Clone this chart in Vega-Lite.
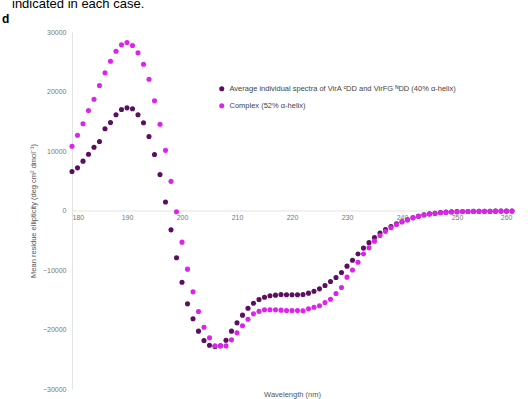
{
  "$schema": "https://vega.github.io/schema/vega-lite/v6.json",
  "width": 440,
  "height": 357,
  "autosize": "none",
  "padding": {"left": 72, "top": 32, "right": 16, "bottom": 10},
  "background": "white",
  "title": {
    "text": "\u2800indicated in each case.",
    "subtitle": "d",
    "anchor": "start",
    "frame": "group",
    "dx": -70,
    "offset": 3,
    "font": "Liberation Sans",
    "fontSize": 13,
    "fontWeight": "normal",
    "color": "black",
    "subtitleFont": "Liberation Sans",
    "subtitleFontSize": 12,
    "subtitleFontWeight": "bold",
    "subtitleColor": "black",
    "subtitlePadding": 3
  },
  "config": {
    "view": {"stroke": null},
    "font": "Liberation Sans"
  },
  "data": {
    "values": [
      {"nm": 180, "avg": 6550, "complex": 10800},
      {"nm": 181, "avg": 7170, "complex": 12650},
      {"nm": 182, "avg": 8290, "complex": 14570},
      {"nm": 183, "avg": 9460, "complex": 16800},
      {"nm": 184, "avg": 10640, "complex": 18700},
      {"nm": 185, "avg": 11600, "complex": 21000},
      {"nm": 186, "avg": 13730, "complex": 23140},
      {"nm": 187, "avg": 14790, "complex": 25090},
      {"nm": 188, "avg": 16080, "complex": 26770},
      {"nm": 189, "avg": 16970, "complex": 27850},
      {"nm": 190, "avg": 17250, "complex": 28240},
      {"nm": 191, "avg": 17090, "complex": 27730},
      {"nm": 192, "avg": 16080, "complex": 26500},
      {"nm": 193, "avg": 14740, "complex": 24590},
      {"nm": 194, "avg": 12440, "complex": 22070},
      {"nm": 195, "avg": 9410, "complex": 18440},
      {"nm": 196, "avg": 6050, "complex": 14500},
      {"nm": 197, "avg": 1430, "complex": 10110},
      {"nm": 198, "avg": -3250, "complex": 4900},
      {"nm": 199, "avg": -7950, "complex": -220},
      {"nm": 200, "avg": -12050, "complex": -5320},
      {"nm": 201, "avg": -15690, "complex": -9860},
      {"nm": 202, "avg": -18200, "complex": -13670},
      {"nm": 203, "avg": -20280, "complex": -16970},
      {"nm": 204, "avg": -21850, "complex": -19610},
      {"nm": 205, "avg": -22640, "complex": -21400},
      {"nm": 206, "avg": -22860, "complex": -22750},
      {"nm": 207, "avg": -22750, "complex": -22750},
      {"nm": 208, "avg": -21800, "complex": -22750},
      {"nm": 209, "avg": -20280, "complex": -21740},
      {"nm": 210, "avg": -18880, "complex": -20560},
      {"nm": 211, "avg": -17590, "complex": -19380},
      {"nm": 212, "avg": -16420, "complex": -18270},
      {"nm": 213, "avg": -15580, "complex": -17370},
      {"nm": 214, "avg": -14960, "complex": -16950},
      {"nm": 215, "avg": -14570, "complex": -16690},
      {"nm": 216, "avg": -14340, "complex": -16690},
      {"nm": 217, "avg": -14230, "complex": -16690},
      {"nm": 218, "avg": -14120, "complex": -16750},
      {"nm": 219, "avg": -14170, "complex": -16800},
      {"nm": 220, "avg": -14170, "complex": -16800},
      {"nm": 221, "avg": -14170, "complex": -16800},
      {"nm": 222, "avg": -14120, "complex": -16860},
      {"nm": 223, "avg": -13890, "complex": -16530},
      {"nm": 224, "avg": -13560, "complex": -16250},
      {"nm": 225, "avg": -13170, "complex": -16020},
      {"nm": 226, "avg": -12600, "complex": -15460},
      {"nm": 227, "avg": -11930, "complex": -14910},
      {"nm": 228, "avg": -11260, "complex": -13950},
      {"nm": 229, "avg": -10420, "complex": -12940},
      {"nm": 230, "avg": -9350, "complex": -11200},
      {"nm": 231, "avg": -8350, "complex": -10000},
      {"nm": 232, "avg": -7300, "complex": -8700},
      {"nm": 233, "avg": -6320, "complex": -7300},
      {"nm": 234, "avg": -5400, "complex": -6250},
      {"nm": 235, "avg": -4550, "complex": -5150},
      {"nm": 236, "avg": -3770, "complex": -4200},
      {"nm": 237, "avg": -3190, "complex": -3500},
      {"nm": 238, "avg": -2690, "complex": -2900},
      {"nm": 239, "avg": -2240, "complex": -2350},
      {"nm": 240, "avg": -1900, "complex": -1900},
      {"nm": 241, "avg": -1570, "complex": -1550},
      {"nm": 242, "avg": -1230, "complex": -1200},
      {"nm": 243, "avg": -960, "complex": -950},
      {"nm": 244, "avg": -720, "complex": -750},
      {"nm": 245, "avg": -560, "complex": -600},
      {"nm": 246, "avg": -450, "complex": -480},
      {"nm": 247, "avg": -340, "complex": -380},
      {"nm": 248, "avg": -280, "complex": -300},
      {"nm": 249, "avg": -220, "complex": -240},
      {"nm": 250, "avg": -190, "complex": -200},
      {"nm": 251, "avg": -170, "complex": -180},
      {"nm": 252, "avg": -160, "complex": -160},
      {"nm": 253, "avg": -150, "complex": -150},
      {"nm": 254, "avg": -140, "complex": -140},
      {"nm": 255, "avg": -130, "complex": -130},
      {"nm": 256, "avg": -120, "complex": -120},
      {"nm": 257, "avg": -110, "complex": -110},
      {"nm": 258, "avg": -100, "complex": -100},
      {"nm": 259, "avg": -100, "complex": -100},
      {"nm": 260, "avg": -100, "complex": -100}
    ]
  },
  "transform": [{"fold": ["avg", "complex"], "as": ["series", "value"]}],
  "mark": {"type": "point", "filled": true, "size": 26, "opacity": 1},
  "encoding": {
    "x": {
      "field": "nm",
      "type": "quantitative",
      "scale": {"domain": [180, 260], "nice": false, "zero": false},
      "axis": {
        "title": "Wavelength (nm)",
        "values": [180, 190, 200, 210, 220, 230, 240, 250, 260],
        "offset": -178.5,
        "titleY": 180,
        "ticks": false,
        "grid": false,
        "domainColor": "#e3e3e3",
        "labelFontSize": 7,
        "labelColor": "#777777",
        "labelPadding": 3,
        "titleFontSize": 7.5,
        "titleFontWeight": "normal",
        "titleColor": "#555555"
      }
    },
    "y": {
      "field": "value",
      "type": "quantitative",
      "scale": {"domain": [-30000, 30000], "nice": false},
      "axis": {
        "title": "Mean residue ellipticity (deg cm² dmol⁻¹)",
        "values": [-30000, -20000, -10000, 0, 10000, 20000, 30000],
        "format": "d",
        "ticks": false,
        "grid": false,
        "domainColor": "#e3e3e3",
        "labelFontSize": 7,
        "labelColor": "#777777",
        "labelPadding": 6,
        "titleFontSize": 7.5,
        "titleFontWeight": "normal",
        "titleColor": "#555555",
        "titlePadding": 5
      }
    },
    "color": {
      "field": "series",
      "type": "nominal",
      "scale": {"domain": ["avg", "complex"], "range": ["#5c0f62", "#dd22ee"]},
      "legend": {
        "title": null,
        "orient": "none",
        "legendX": 146,
        "legendY": 53,
        "symbolType": "circle",
        "symbolSize": 26,
        "labelFontSize": 7.5,
        "labelColor": "#444444",
        "labelLimit": 500,
        "rowPadding": 8,
        "labelExpr": "datum.label == 'avg' ? 'Average individual spectra of VirA ᶜDD and VirFG ᴺDD (40% α-helix)' : 'Complex (52% α-helix)'"
      }
    }
  }
}
